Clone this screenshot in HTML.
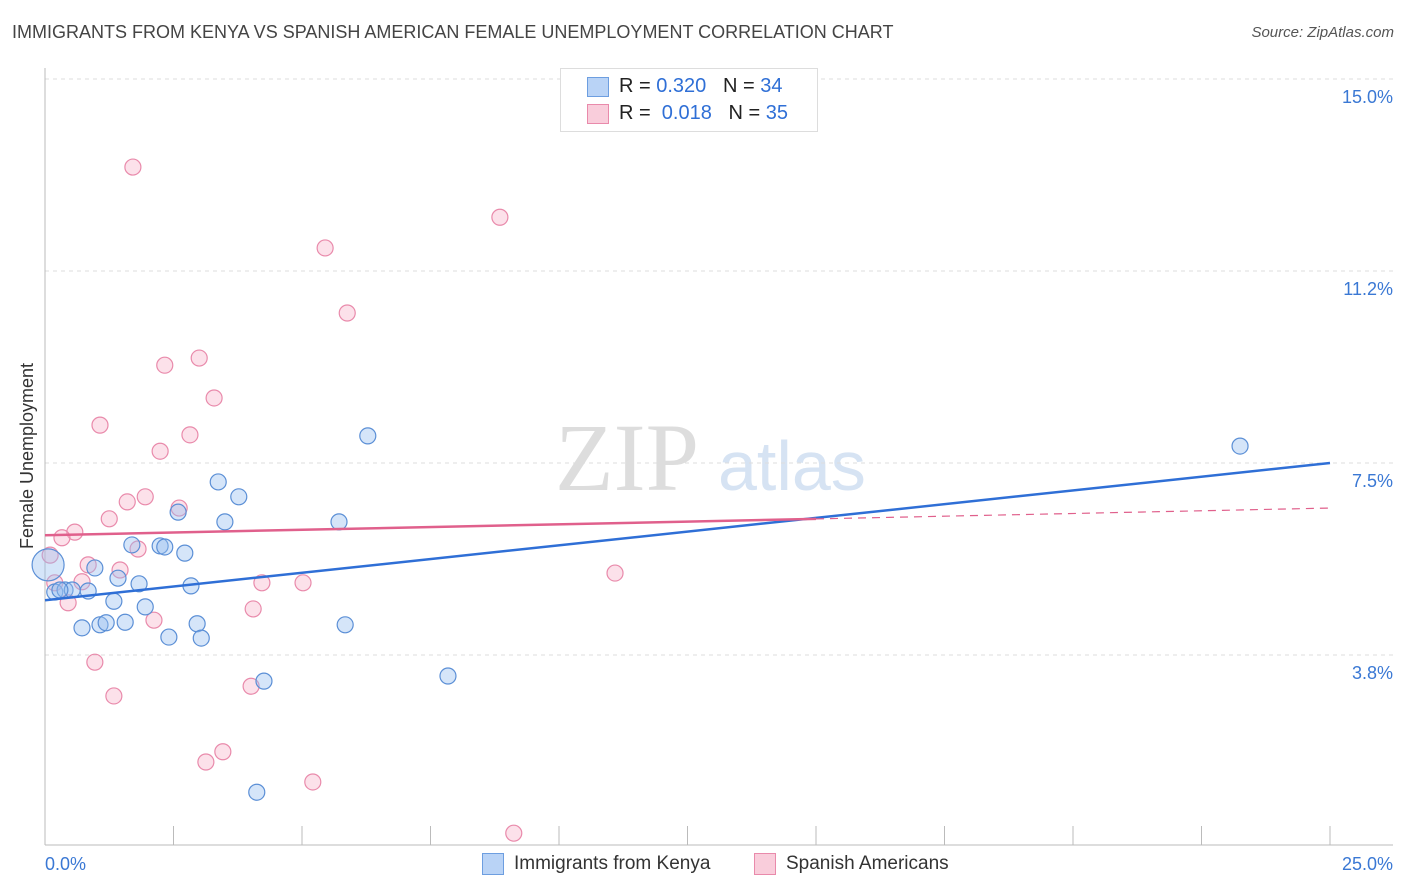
<!DOCTYPE html>
<html><head><meta charset="utf-8">
<style>
body{margin:0;background:#fff;font-family:"Liberation Sans",sans-serif;}
#wrap{position:relative;width:1406px;height:892px;overflow:hidden;}
.t{position:absolute;white-space:nowrap;}
</style></head><body>
<div id="wrap">
<div class="t" style="left:12px;top:22px;font-size:18px;color:#444;">IMMIGRANTS FROM KENYA VS SPANISH AMERICAN FEMALE UNEMPLOYMENT CORRELATION CHART</div>
<div class="t" style="right:12px;top:24px;font-size:15px;color:#555;font-style:italic;">Source: ZipAtlas.com</div>
<svg id="svg" width="1406" height="892" style="position:absolute;left:0;top:0"></svg>
</div>
<script>
const xTickVals=[0,2.5,5,7.5,10,12.5,15,17.5,20,22.5,25];
const yTickVals=[15,11.25,7.5,3.75];
const yTickLabels=["15.0%","11.2%","7.5%","3.8%"];
const kenyaX=[0.06,0.19,0.39,0.53,0.84,0.97,0.72,1.07,1.19,1.34,1.42,1.56,1.69,1.83,1.95,2.24,2.33,2.41,2.59,2.72,2.84,2.96,3.04,3.37,3.50,3.77,4.26,4.12,5.72,5.84,6.28,7.84,23.25,0.29];
const kenyaY=[5.51,4.98,5.02,5.02,5.00,5.45,4.28,4.34,4.38,4.80,5.25,4.39,5.90,5.14,4.69,5.88,5.86,4.10,6.54,5.74,5.10,4.36,4.08,7.13,6.35,6.84,3.24,1.07,6.35,4.34,8.03,3.34,7.83,5.02];
const spanX=[1.71,8.85,5.45,5.88,2.33,3.00,3.29,1.07,2.82,2.24,1.95,1.60,2.61,1.25,0.58,0.33,1.81,0.10,0.84,1.46,0.19,0.72,0.45,2.12,4.22,5.02,4.05,11.09,0.97,1.34,4.01,3.46,3.13,5.21,9.12];
const spanY=[13.28,12.30,11.70,10.43,9.41,9.55,8.77,8.24,8.05,7.73,6.84,6.74,6.62,6.41,6.15,6.04,5.82,5.70,5.51,5.41,5.16,5.18,4.77,4.43,5.16,5.16,4.65,5.35,3.61,2.95,3.14,1.86,1.66,1.27,0.27];
const kenyaTrend=[4.82,7.5];
const spanTrend=[6.09,6.62];
const X=v=>45+v*51.4, Y=v=>79+(15-v)*51.2;
const svg=document.getElementById('svg');const NS='http://www.w3.org/2000/svg';
function mk(tag,a,parent){const e=document.createElementNS(NS,tag);for(const k in a)e.setAttribute(k,a[k]);(parent||svg).appendChild(e);return e;}
// watermark
let w=mk('text',{x:555,y:490,'font-size':96,fill:'#ddd','font-family':'Liberation Serif'});w.textContent='ZIP';


let w2=mk('text',{x:718,y:490,'font-size':70,fill:'#d6e3f3','font-family':'Liberation Sans'});w2.textContent='atlas';


yTickVals.forEach((v,i)=>{
 let g=mk('line',{x1:45,x2:1393,y1:Y(v),y2:Y(v),stroke:'#ddd','stroke-dasharray':'4,4'});
 
 
 let t=mk('text',{x:1393,y:Y(v)+24,'text-anchor':'end','font-size':18,fill:'#3a78d4'});t.textContent=yTickLabels[i];
 
 
});
let ax=mk('line',{x1:45,x2:1393,y1:845,y2:845,stroke:'#bbb'});


let ay=mk('line',{x1:45,x2:45,y1:68,y2:845,stroke:'#bbb'});


xTickVals.forEach(v=>{let t=mk('line',{x1:X(v),x2:X(v),y1:826,y2:845,stroke:'#bbb'});
 
 });
let xl=mk('text',{x:45,y:870,'font-size':18,fill:'#3a78d4'});xl.textContent='0.0%';


let xr=mk('text',{x:1393,y:870,'font-size':18,fill:'#3a78d4','text-anchor':'end'});xr.textContent='25.0%';


let yt=mk('text',{x:33,y:456,'font-size':18,fill:'#333','text-anchor':'middle',transform:'rotate(-90 33 456)'});yt.textContent='Female Unemployment';


function pts(xs,ys,fill,stroke,name){xs.forEach((x,i)=>{let c=mk('circle',{cx:X(x),cy:Y(ys[i]),r:(i===0&&name==='kenya-point')?16:8,fill:fill,stroke:stroke,'stroke-width':1.2});
 
 });}
pts(spanX,spanY,'rgba(246,170,196,0.35)','#e98aab','spanish-point');
pts(kenyaX,kenyaY,'rgba(150,190,240,0.4)','#5b8fd6','kenya-point');
let l1=mk('line',{x1:X(0),y1:Y(kenyaTrend[0]),x2:X(25),y2:Y(kenyaTrend[1]),stroke:'#2f6fd6','stroke-width':2.5});


const sAt=v=>spanTrend[0]+(spanTrend[1]-spanTrend[0])*v/25;
let l2=mk('line',{x1:X(0),y1:Y(sAt(0)),x2:X(15),y2:Y(sAt(15)),stroke:'#e0608c','stroke-width':2.5});


let l3=mk('line',{x1:X(15),y1:Y(sAt(15)),x2:X(25),y2:Y(sAt(25)),stroke:'#e0608c','stroke-width':1.2,'stroke-dasharray':'8,6'});


</script>
<div class="t" style="left:560px;top:68px;width:256px;height:62px;border:1px solid #ddd;background:#fff;font-size:20px;">
 <div class="t" style="left:26px;top:8px;width:20px;height:18px;background:#b9d3f6;border:1px solid #6d9ee0;"></div>
 <div class="t" style="left:58px;top:6px;color:#222;">R = <span style="color:#2f6fd6">0.320</span>&nbsp;&nbsp;&nbsp;N = <span style="color:#2f6fd6">34</span></div>
 <div class="t" style="left:26px;top:35px;width:20px;height:18px;background:#f9cddb;border:1px solid #e98aab;"></div>
 <div class="t" style="left:58px;top:33px;color:#222;">R = &nbsp;<span style="color:#2f6fd6">0.018</span>&nbsp;&nbsp;&nbsp;N = <span style="color:#2f6fd6">35</span></div>
</div>
<div class="t" style="left:482px;top:853px;width:20px;height:20px;background:#b9d3f6;border:1px solid #6d9ee0;"></div>
<div class="t" style="left:514px;top:853px;font-size:19px;color:#333;">Immigrants from Kenya</div>
<div class="t" style="left:754px;top:853px;width:20px;height:20px;background:#f9cddb;border:1px solid #e98aab;"></div>
<div class="t" style="left:786px;top:853px;font-size:19px;color:#333;">Spanish Americans</div>
</body></html>
